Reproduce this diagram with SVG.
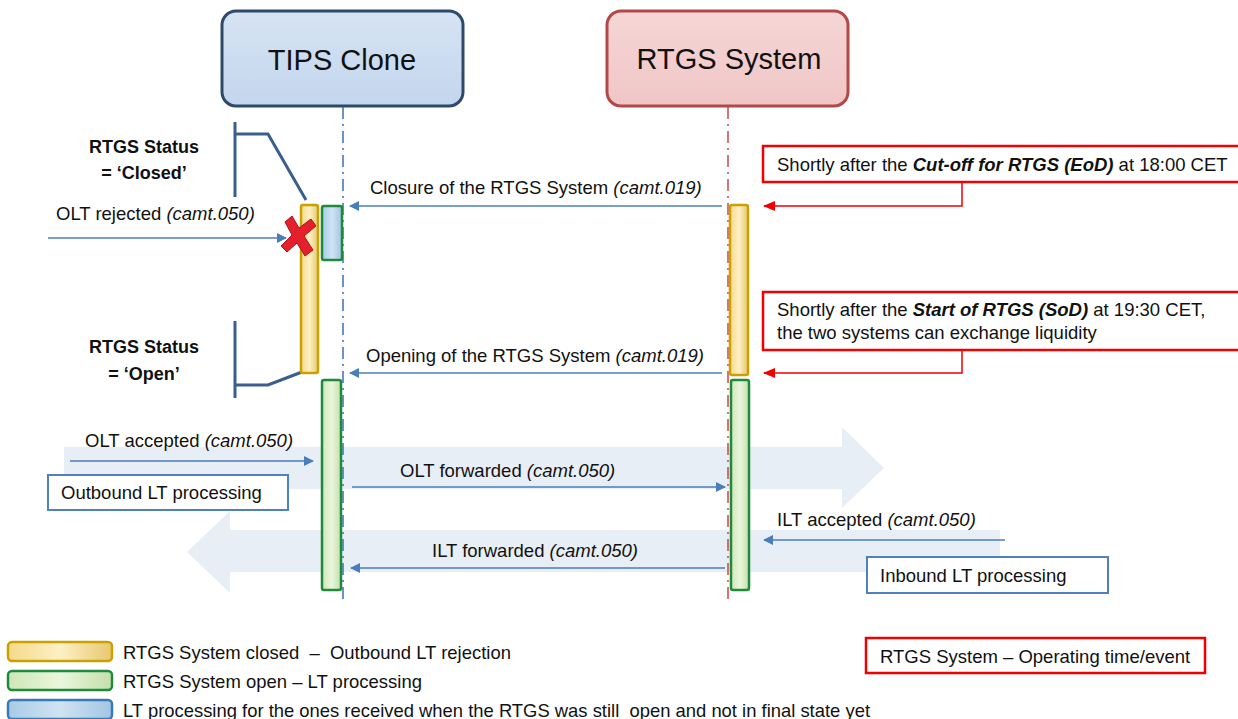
<svg xmlns="http://www.w3.org/2000/svg" width="1238" height="719" viewBox="0 0 1238 719">
<style>
.t{font-family:"Liberation Sans",Arial,sans-serif;font-size:18.5px;fill:#111}
.lg{font-family:"Liberation Sans",Arial,sans-serif;font-size:19px;fill:#111}
.h{font-family:"Liberation Sans",Arial,sans-serif;font-size:29px;fill:#111;text-anchor:middle}
.b{font-family:"Liberation Sans",Arial,sans-serif;font-size:18px;font-weight:bold;fill:#111;text-anchor:middle}
.i{font-style:italic}
.bi{font-style:italic;font-weight:bold}
.msg{stroke:#4a7ebb;stroke-width:1.5;fill:none}
.red{stroke:#f00000;stroke-width:1.5;fill:none}
.brk{stroke:#3a5f8f;stroke-width:3;fill:none}
.yel{fill:url(#gy);stroke:#c9a100;stroke-width:2.5}
.grn{fill:url(#gg);stroke:#1e8a3c;stroke-width:2.5}
.blu{fill:url(#gb);stroke:#1e8a3c;stroke-width:2.5}
.blgd{fill:url(#gb);stroke:#3a78b8;stroke-width:2.5}
.bigarrow{fill:#e8eef6}
.lbox{fill:#fff;stroke:#4f81bd;stroke-width:2}
.rbox{fill:#fff;stroke:#f00000;stroke-width:2.5}
</style>
<defs>
<linearGradient id="gy" x1="0" x2="1" y1="0" y2="0"><stop offset="0" stop-color="#f5d98a"/><stop offset="0.5" stop-color="#fdf0c4"/><stop offset="1" stop-color="#e8c870"/></linearGradient>
<linearGradient id="gg" x1="0" x2="1" y1="0" y2="0"><stop offset="0" stop-color="#cfe6b8"/><stop offset="0.5" stop-color="#eaf6dc"/><stop offset="1" stop-color="#c4dfac"/></linearGradient>
<linearGradient id="gb" x1="0" x2="1" y1="0" y2="0"><stop offset="0" stop-color="#a9cbe6"/><stop offset="0.5" stop-color="#cfe3f3"/><stop offset="1" stop-color="#a2c5e2"/></linearGradient>
<linearGradient id="gh1" x1="0" x2="0" y1="0" y2="1"><stop offset="0" stop-color="#d6e3f3"/><stop offset="1" stop-color="#c3d6ee"/></linearGradient>
<linearGradient id="gh2" x1="0" x2="0" y1="0" y2="1"><stop offset="0" stop-color="#f6d6d6"/><stop offset="1" stop-color="#efc6c6"/></linearGradient>
<marker id="ab" markerWidth="10" markerHeight="10" refX="9" refY="5" orient="auto" markerUnits="userSpaceOnUse"><path d="M0,0 L10,5 L0,10 Z" fill="#4a7ebb"/></marker>
<marker id="ar" markerWidth="12" markerHeight="10" refX="11" refY="5" orient="auto" markerUnits="userSpaceOnUse"><path d="M0,0 L12,5 L0,10 Z" fill="#f00000"/></marker>
</defs>
<rect width="1238" height="719" fill="#fff"/>

<!-- big background arrows -->
<g id="outbound-flow">
<path class="bigarrow" d="M64,447 L842,447 L842,427 L884,468 L842,508 L842,489 L64,489 Z"/>
</g>
<g id="inbound-flow">
<path class="bigarrow" d="M1000,530 L230,530 L230,511 L187,552 L230,593 L230,572 L1000,572 Z"/>
</g>

<!-- header nodes -->
<g id="tips-clone">
<rect x="222" y="11" width="241" height="95" rx="14" fill="url(#gh1)" stroke="#2e4a6b" stroke-width="3"/>
<text class="h" x="342" y="70">TIPS Clone</text>
</g>
<g id="rtgs-system">
<rect x="607" y="11" width="241" height="95" rx="14" fill="url(#gh2)" stroke="#b24848" stroke-width="3"/>
<text class="h" x="729" y="69">RTGS System</text>
</g>

<!-- lifelines -->
<g id="lifelines">
<line x1="343" y1="107" x2="343" y2="602" stroke="#3b70b5" stroke-width="1.5" stroke-dasharray="12,5,2,5"/>
<line x1="728" y1="107" x2="728" y2="602" stroke="#c8464a" stroke-width="1.5" stroke-dasharray="12,5,2,5"/>
</g>

<!-- status brackets -->
<g id="status-closed">
<path class="brk" d="M235,122 L235,197 M235,134 L268,134 L306,200"/>
<text class="b" x="144" y="153">RTGS Status</text>
<text class="b" x="144" y="179">= ‘Closed’</text>
</g>
<g id="status-open">
<path class="brk" d="M235,321 L235,398 M235,385 L268,385 L302,372"/>
<text class="b" x="144" y="353">RTGS Status</text>
<text class="b" x="144" y="380">= ‘Open’</text>
</g>

<!-- activation bars -->
<g id="tips-closed-bar"><rect class="yel" x="301" y="205" width="17" height="168" rx="2"/></g>
<g id="tips-pending-bar"><rect class="blu" x="322" y="206" width="20" height="54" rx="2"/></g>
<g id="tips-open-bar"><rect class="grn" x="322" y="380" width="19" height="210" rx="2"/></g>
<g id="rtgs-closed-bar"><rect class="yel" x="730" y="205" width="18" height="170" rx="2"/></g>
<g id="rtgs-open-bar"><rect class="grn" x="731" y="380" width="18" height="210" rx="2"/></g>

<!-- reject cross -->
<g id="reject-x">
<path d="M285,222 L292,216 L299,228 L311,219 L316,226 L304,236 L313,250 L305,256 L297,243 L287,252 L281,246 L292,235 Z" fill="#e3202c" stroke="#b01018" stroke-width="1"/>
</g>

<!-- red event boxes -->
<g id="event-eod">
<rect class="rbox" x="763" y="146" width="480" height="36"/>
<text class="t" x="777" y="171">Shortly after the <tspan class="bi">Cut-off for RTGS (EoD)</tspan> at 18:00 CET</text>
</g>
<g id="event-sod">
<rect class="rbox" x="763" y="292" width="480" height="58"/>
<text class="t" x="777" y="316">Shortly after the <tspan class="bi">Start of RTGS (SoD)</tspan> at 19:30 CET,</text>
<text class="t" x="777" y="339">the two systems can exchange liquidity</text>
</g>

<!-- process boxes -->
<g id="outbound-box">
<rect class="lbox" x="48" y="475" width="240" height="35"/>
<text class="t" x="61" y="499">Outbound LT processing</text>
</g>
<g id="inbound-box">
<rect class="lbox" x="867" y="557" width="241" height="36"/>
<text class="t" x="880" y="582">Inbound LT processing</text>
</g>

<!-- connectors -->
<g id="connectors">
<line class="msg" x1="48" y1="238" x2="286" y2="238" marker-end="url(#ab)"/>
<line class="msg" x1="722" y1="206" x2="350" y2="206" marker-end="url(#ab)"/>
<line class="msg" x1="722" y1="373" x2="350" y2="373" marker-end="url(#ab)"/>
<line class="msg" x1="70" y1="461" x2="313" y2="461" marker-end="url(#ab)"/>
<line class="msg" x1="352" y1="487" x2="725" y2="487" marker-end="url(#ab)"/>
<line class="msg" x1="1005" y1="540" x2="764" y2="540" marker-end="url(#ab)"/>
<line class="msg" x1="725" y1="568" x2="351" y2="568" marker-end="url(#ab)"/>
<path class="red" d="M962,182 L962,206 L764,206" marker-end="url(#ar)"/>
<path class="red" d="M962,350 L962,373 L764,373" marker-end="url(#ar)"/>
</g>

<!-- connector labels -->
<g id="labels">
<text class="t" x="56" y="220">OLT rejected <tspan class="i">(camt.050)</tspan></text>
<text class="t" x="370" y="194">Closure of the RTGS System <tspan class="i">(camt.019)</tspan></text>
<text class="t" x="366" y="362">Opening of the RTGS System <tspan class="i">(camt.019)</tspan></text>
<text class="t" x="85" y="447">OLT accepted <tspan class="i">(camt.050)</tspan></text>
<text class="t" x="400" y="477">OLT forwarded <tspan class="i">(camt.050)</tspan></text>
<text class="t" x="777" y="526">ILT accepted <tspan class="i">(camt.050)</tspan></text>
<text class="t" x="432" y="557">ILT forwarded <tspan class="i">(camt.050)</tspan></text>
</g>

<!-- legend -->
<g id="legend">
<rect class="yel" x="8" y="642" width="104" height="19" rx="4"/>
<rect class="grn" x="8" y="671" width="104" height="19" rx="4"/>
<rect class="blgd" x="8" y="700" width="104" height="19" rx="4"/>
<text class="lg" x="123" y="659" xml:space="preserve" textLength="388" lengthAdjust="spacingAndGlyphs">RTGS System closed  –  Outbound LT rejection</text>
<text class="lg" x="123" y="688" textLength="299" lengthAdjust="spacingAndGlyphs">RTGS System open – LT processing</text>
<text class="lg" x="123" y="717" xml:space="preserve" textLength="747" lengthAdjust="spacingAndGlyphs">LT processing for the ones received when the RTGS was still  open and not in final state yet</text>
<rect class="rbox" x="866" y="638" width="339" height="35"/>
<text class="t" x="880" y="663">RTGS System – Operating time/event</text>
</g>
</svg>
